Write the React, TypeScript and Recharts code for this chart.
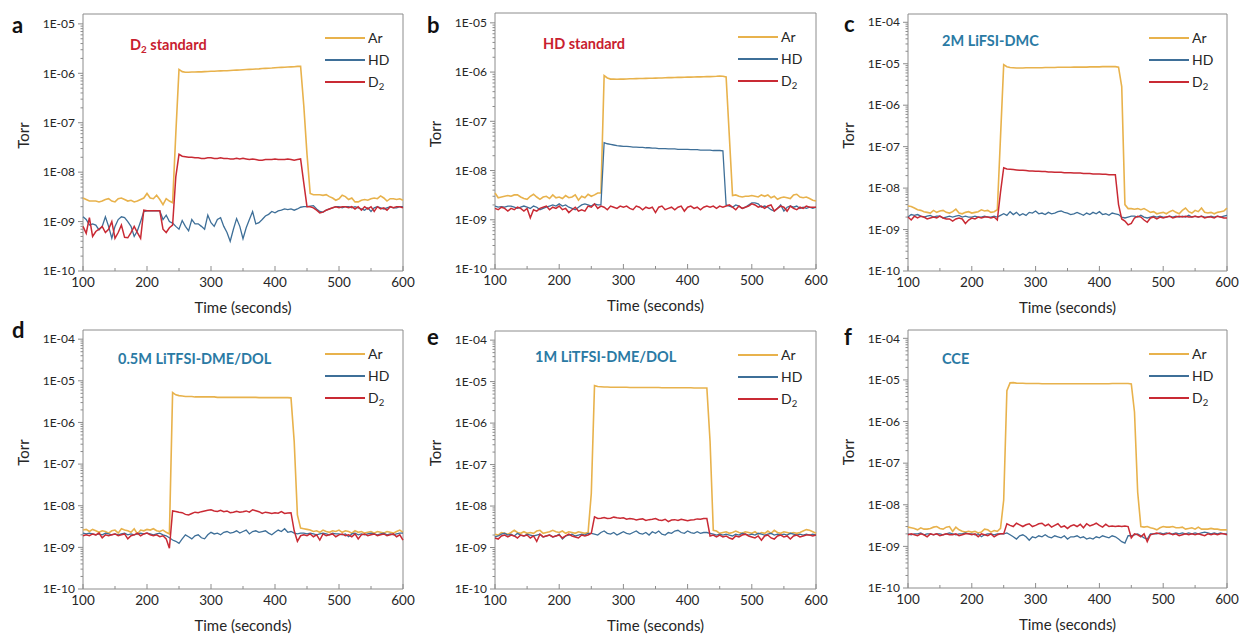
import React from "react";
import { LineChart, Line, XAxis, YAxis, ReferenceArea, Legend } from "recharts";

// sample times (s)
const TIME = [
  100, 105, 110, 115, 120, 125, 130, 135, 140, 145,
  150, 155, 160, 165, 170, 175, 180, 185, 190, 195,
  200, 205, 210, 215, 220, 225, 230, 235, 240, 245,
  250, 255, 260, 265, 270, 275, 280, 285, 290, 295,
  300, 305, 310, 315, 320, 325, 330, 335, 340, 345,
  350, 355, 360, 365, 370, 375, 380, 385, 390, 395,
  400, 405, 410, 415, 420, 425, 430, 435, 440, 445,
  450, 455, 460, 465, 470, 475, 480, 485, 490, 495,
  500, 505, 510, 515, 520, 525, 530, 535, 540, 545,
  550, 555, 560, 565, 570, 575, 580, 585, 590, 595,
  600,
];

// all pressures below are in units of 1E-09 Torr

// a - D2 standard
const arA = [
  3.0, 2.8, 2.6, 2.6, 2.6, 2.5, 2.6, 2.8, 2.9, 2.6,
  2.5, 2.9, 3.0, 2.8, 2.6, 2.7, 2.5, 2.6, 2.8, 3.0,
  3.7, 3.0, 2.9, 3.4, 2.8, 2.2, 2.9, 2.6, 2.4, 60,
  1200, 1080, 1050, 1050, 1060, 1060, 1070, 1070, 1080, 1090,
  1100, 1100, 1110, 1120, 1130, 1130, 1140, 1150, 1160, 1170,
  1180, 1190, 1200, 1210, 1220, 1230, 1250, 1260, 1270, 1280,
  1300, 1310, 1320, 1330, 1340, 1350, 1360, 1380, 1390, 220,
  23, 3.7, 3.5, 3.5, 3.5, 3.4, 3.5, 3.2, 3.0, 2.7,
  2.9, 3.4, 3.2, 2.8, 3.0, 2.5, 2.5, 2.7, 2.8, 2.7,
  2.9, 3.0, 2.9, 3.3, 3.0, 2.6, 2.9, 2.9, 2.8, 2.9,
  2.7,
];
const hdA = [
  1.25, 1.1, 0.85, 0.9, 0.85, 0.68, 0.8, 1.25, 0.8, 0.46,
  0.8, 1.1, 1.25, 1.2, 1.0, 0.8, 0.5, 0.65, 1.0, 1.6,
  1.65, 1.65, 1.65, 1.65, 1.65, 1.1, 1.35, 1.0, 0.93, 0.8,
  0.7, 1.05, 0.8, 0.65, 1.1, 0.9, 0.9, 0.8, 0.7, 1.35,
  0.95, 0.8, 1.1, 1.2, 0.8, 0.6, 0.4, 0.7, 1.15, 0.8,
  0.45, 0.75, 1.1, 1.6, 0.9, 0.95, 1.1, 1.3, 1.4, 1.6,
  1.5, 1.65, 1.7, 1.8, 1.75, 1.8, 1.7, 1.8, 1.95, 2.0,
  2.0, 2.05, 2.1, 1.8, 1.6, 1.55, 1.7, 1.8, 1.9, 2.0,
  2.0, 1.9, 2.0, 2.0, 1.9, 2.0, 1.9, 1.8, 1.7, 1.9,
  1.6, 1.9, 2.0, 1.9, 1.8, 1.9, 2.0, 1.9, 1.9, 2.0,
  2.0,
];
const d2A = [
  0.8, 0.58, 1.2, 0.5, 0.63, 0.7, 0.8, 0.6, 0.7, 1.0,
  0.46, 0.6, 0.85, 0.48, 0.47, 0.6, 0.8, 0.6, 0.46, 1.7,
  1.65, 1.65, 1.65, 1.65, 1.65, 0.7, 0.6, 0.75, 0.85, 8,
  23, 21, 20.5, 20, 20, 19.5, 19.5, 19, 19, 19.5,
  19.5, 19, 19, 19.5, 19, 19, 18.5, 18.5, 19, 18.5,
  19, 18.5, 18, 18.5, 18, 17.5, 17.5, 18, 18, 18,
  18.5, 18, 18, 18, 18.5, 18, 17.5, 18, 18.5, 6,
  2.0, 2.0, 1.9, 1.7, 1.5, 1.55, 1.7, 1.8, 1.9, 2.0,
  1.9, 2.0, 2.0, 1.9, 2.0, 1.8, 2.0, 1.7, 2.0, 1.8,
  2.0, 1.6, 2.0, 1.8, 1.9, 1.7, 2.0, 1.9, 2.0, 2.0,
  1.9,
];

// b - HD standard
const arB = [
  3.5, 2.8, 2.9, 3.0, 3.1, 3.0, 3.2, 3.2, 2.9, 2.7,
  2.6, 3.0, 3.3, 2.9, 2.6, 2.9, 3.0, 2.7, 3.2, 2.8,
  2.9, 2.7, 3.1, 2.8, 2.9, 3.2, 2.5, 3.0, 2.8, 3.3,
  3.0, 3.2, 3.5, 3.5, 850, 760, 720, 720, 715, 720,
  720, 725, 730, 730, 735, 740, 740, 745, 750, 750,
  755, 760, 760, 765, 770, 770, 775, 780, 780, 785,
  790, 790, 795, 800, 800, 805, 810, 810, 815, 820,
  830, 820, 800, 50, 3.1, 3.2, 3.0, 2.9, 3.0, 3.0,
  3.1, 3.0, 2.9, 3.2, 3.0, 3.2, 2.8, 3.0, 2.6, 2.8,
  2.9, 2.8, 2.7, 3.2, 3.3, 2.9, 2.8, 2.9, 2.7, 2.5,
  2.4,
];
const hdB = [
  1.9, 1.8, 1.85, 1.8, 1.9, 1.9, 1.8, 1.7, 1.8, 1.9,
  1.8, 1.7, 1.9, 1.8, 1.6, 1.7, 1.8, 1.9, 2.0, 1.9,
  2.1, 1.9, 2.0, 1.8, 1.7, 1.6, 1.8, 2.0, 2.1, 2.0,
  1.9, 2.1, 2.0, 2.0, 37, 35, 34, 33, 32, 31.5,
  31, 31, 30.5, 30, 30, 29.5, 29.5, 29, 29, 28.5,
  28.5, 28, 28, 28, 27.5, 27.5, 27.5, 27, 27, 27,
  27, 26.5, 26.5, 26.5, 26, 26, 26, 26, 25.5, 25.5,
  25.5, 25, 2.0, 1.9, 1.8, 2.0, 1.9, 1.7, 1.8, 2.0,
  2.2, 2.2, 2.1, 1.8, 1.9, 1.8, 1.6, 1.5, 1.7, 2.0,
  1.5, 1.8, 1.9, 1.8, 1.9, 1.7, 1.8, 1.7, 1.8, 1.7,
  1.8,
];
const d2B = [
  1.7, 1.6, 1.8, 1.7, 1.5, 1.7, 1.6, 1.8, 1.7, 1.5,
  1.7, 1.1, 1.6, 1.5, 1.7, 1.8, 1.9, 1.6, 1.8, 1.7,
  1.9, 1.6, 1.7, 1.4, 1.6, 1.8, 1.5, 1.6, 1.5, 1.9,
  1.8, 2.1, 1.7, 1.9, 1.8, 1.6, 1.9, 1.8, 1.7, 1.9,
  1.8, 1.9, 1.7, 1.6, 1.9, 1.8, 1.6, 1.8, 1.7, 1.8,
  1.4, 1.8, 1.9, 1.6, 1.7, 1.8, 1.6, 1.8, 1.9, 1.5,
  1.8, 1.9, 1.7, 1.8, 1.6, 1.8, 1.9, 1.8, 1.9, 1.7,
  1.9, 1.8, 1.9, 2.0, 1.8, 1.6, 1.9, 1.7, 1.8, 1.9,
  2.1, 2.0, 1.8, 1.9, 1.7, 1.9, 2.0, 1.5, 1.7, 1.9,
  1.8, 1.5, 1.9, 1.7, 1.6, 1.8, 1.7, 1.9, 1.8, 1.8,
  1.8,
];

// c - 2M LiFSI-DMC
const arC = [
  3.7, 3.6, 3.3, 3.0, 2.9, 2.7, 2.6, 2.5, 2.9, 2.6,
  2.8, 2.9, 2.6, 2.5, 2.7, 3.1, 2.5, 2.4, 2.6, 2.7,
  2.5, 2.6, 2.7, 3.0, 2.8, 2.9, 2.6, 2.7, 3.0, 170,
  9500, 8500, 8100, 8000, 7900, 7900, 7900, 8000, 8000, 8000,
  8000, 8000, 8000, 8100, 8100, 8100, 8100, 8200, 8200, 8200,
  8200, 8200, 8300, 8300, 8300, 8300, 8300, 8400, 8400, 8400,
  8400, 8500, 8500, 8500, 8500, 8500, 8300, 2800, 4.0, 3.2,
  3.2, 3.1, 3.2, 3.0, 3.2, 2.9, 2.6, 2.7, 2.4, 2.5,
  2.6, 2.4, 2.7, 2.9, 2.6, 2.4, 2.9, 3.3, 2.7, 2.5,
  2.9, 2.7, 3.3, 2.6, 2.5, 2.6, 2.4, 2.6, 2.7, 2.8,
  3.3,
];
const hdC = [
  2.0, 2.3, 2.2, 2.3, 2.1, 2.0, 2.1, 2.2, 2.0, 2.1,
  2.1, 1.9, 2.0, 2.1, 2.0, 2.1, 2.2, 2.0, 2.1, 2.0,
  2.0, 2.1, 2.0, 2.0, 2.1, 2.0, 2.0, 2.1, 2.0, 2.2,
  2.4, 2.2, 2.7, 2.3, 2.6, 2.2, 2.4, 2.2, 2.6, 2.5,
  2.8, 2.4, 2.5, 2.3, 2.6, 2.4, 2.5, 2.7, 2.8, 2.6,
  2.5, 2.3, 2.4, 2.6, 2.4, 2.2, 2.5, 2.3, 2.6, 2.4,
  2.7, 2.3, 2.4, 2.2, 2.5, 2.4, 2.3, 2.0, 1.9, 2.0,
  2.1, 2.1, 2.0, 2.2, 2.0, 1.9, 2.0, 2.1, 2.0, 2.1,
  2.0, 2.0, 2.1, 2.0, 2.1, 2.0, 2.1, 2.0, 2.2, 2.0,
  2.1, 2.0, 2.1, 2.0, 2.0, 2.1, 2.0, 2.1, 2.0, 2.1,
  2.2,
];
const d2C = [
  2.0, 1.7, 2.1, 1.9, 2.1, 2.0, 1.8, 1.9, 2.0, 1.9,
  2.1, 1.9, 1.8, 1.8, 1.6, 1.8, 1.9, 1.8, 1.4, 1.7,
  1.9, 1.8, 2.0, 1.9, 2.0, 2.0, 1.9, 2.0, 1.7, 8,
  31, 29, 28.5, 28, 27.5, 27, 27, 26.5, 26, 26,
  25.5, 25.5, 25, 25, 24.5, 24.5, 24, 24, 24, 23.5,
  23.5, 23.5, 23, 23, 23, 22.5, 22.5, 22.5, 22, 22,
  22, 21.5, 21.5, 21, 21, 21, 4, 1.8, 1.6, 1.3,
  1.4, 1.9, 2.1, 2.0, 1.7, 1.5, 1.9, 2.0, 1.8, 2.0,
  1.9, 2.0, 2.1, 1.9, 2.0, 2.1, 2.0, 2.1, 2.0, 2.0,
  2.1, 2.0, 2.1, 1.9, 2.0, 2.0, 1.9, 2.1, 2.0, 1.9,
  1.9,
];

// d - 0.5M LiTFSI-DME/DOL
const arD = [
  2.6, 2.7, 2.4, 2.7, 2.5, 2.3, 2.5, 2.4, 2.2, 2.5,
  2.6, 2.2, 2.8, 2.6, 2.5, 2.3, 2.8, 2.1, 2.6, 2.5,
  2.7, 2.6, 2.8, 2.5, 2.4, 2.6, 2.3, 2.1, 5200, 4600,
  4400, 4300, 4200, 4200, 4200, 4100, 4100, 4100, 4100, 4100,
  4100, 4100, 4000, 4000, 4000, 4000, 4000, 4000, 4000, 4000,
  4000, 4000, 4000, 4000, 4000, 3950, 3950, 3950, 3950, 3950,
  3950, 3950, 3950, 3950, 3950, 3900, 350, 6, 2.9, 2.8,
  2.7, 2.6, 2.4, 2.5, 2.3, 2.6, 2.4, 2.3, 2.5, 2.4,
  2.6, 2.3, 2.5, 2.4, 2.2, 2.5, 2.3, 2.4, 2.2, 2.3,
  2.4, 2.2, 2.4, 2.3, 2.2, 2.4, 2.3, 2.2, 2.4, 2.6,
  2.3,
];
const hdD = [
  2.2, 2.1, 2.2, 2.1, 2.0, 2.1, 2.0, 2.2, 2.1, 2.0,
  2.1, 2.0, 2.1, 2.2, 2.0, 2.1, 2.0, 2.1, 2.2, 2.1,
  2.2, 2.1, 2.0, 2.1, 2.2, 2.0, 1.9, 1.7, 1.5, 1.4,
  1.25, 1.6, 2.0, 1.8, 1.6, 1.9, 2.0, 1.7, 1.6, 2.0,
  2.3, 2.1, 2.2, 2.0, 2.3, 2.4, 2.2, 2.3, 2.5, 2.2,
  2.4, 2.6, 2.1, 2.4, 2.5, 2.3, 2.4, 2.5, 2.2, 2.0,
  2.3, 2.6, 2.4, 2.8, 2.3, 2.4, 2.2, 2.1, 2.2, 2.2,
  2.1, 2.2, 2.1, 2.0, 2.1, 2.2, 2.1, 2.0, 2.2, 2.1,
  2.1, 2.0, 2.1, 1.8, 2.1, 2.2, 2.0, 2.1, 2.0, 2.1,
  2.2, 2.1, 2.0, 2.1, 2.2, 2.0, 2.1, 2.0, 2.1, 2.2,
  2.2,
];
const d2D = [
  1.9, 2.0, 1.9, 2.1, 2.0, 2.2, 1.7, 2.0, 1.9, 2.0,
  2.1, 1.9, 2.0, 2.1, 1.6, 1.9, 2.0, 2.2, 1.9, 2.1,
  2.2, 2.0, 1.9, 2.0, 1.8, 1.9, 1.6, 0.95, 7.5, 7.3,
  7.0, 6.8, 6.2, 6.0, 6.5, 7.0, 6.8, 7.2, 7.5, 7.8,
  8.0, 7.5, 7.3, 7.8, 7.2, 7.5, 6.8, 7.0, 7.4, 7.0,
  7.2, 7.5, 7.0, 8.0, 7.6, 7.2, 6.5, 7.0, 6.8, 6.5,
  6.8, 6.6, 7.2, 6.5, 6.7, 6.8, 2.5, 1.4, 1.9, 2.0,
  1.9, 2.1, 1.8, 2.0, 1.5, 2.1, 1.9, 2.0, 2.1, 1.8,
  2.0, 2.1, 1.9, 2.0, 1.8, 2.1, 1.6, 2.0, 2.1, 1.9,
  2.0, 2.1, 1.9, 2.0, 2.1, 1.9, 2.0, 2.1, 1.8, 2.0,
  1.5,
];

// e - 1M LiTFSI-DME/DOL
const arE = [
  2.1, 2.0, 2.3, 2.2, 2.1, 2.3, 2.6, 2.3, 2.2, 2.4,
  2.2, 2.3, 2.2, 2.5, 2.6, 2.2, 2.3, 2.4, 2.6, 2.4,
  2.3, 2.5, 2.2, 2.4, 2.3, 2.2, 2.4, 2.3, 2.2, 2.3,
  20, 8000, 7600, 7500, 7400, 7400, 7300, 7300, 7300, 7300,
  7300, 7300, 7200, 7200, 7200, 7200, 7200, 7200, 7200, 7200,
  7200, 7200, 7100, 7100, 7100, 7100, 7100, 7100, 7100, 7100,
  7100, 7100, 7000, 7000, 7000, 7000, 7000, 360, 2.6, 2.5,
  2.2, 2.3, 2.4, 2.2, 2.3, 2.5, 2.3, 2.2, 2.4, 2.3,
  2.2, 2.4, 2.1, 2.3, 2.2, 2.5, 2.2, 2.6, 2.3, 2.2,
  2.4, 2.3, 2.2, 2.3, 2.2, 2.3, 2.5, 2.7, 2.6, 2.4,
  2.2,
];
const hdE = [
  1.8, 1.9, 2.1, 2.2, 2.0, 2.1, 1.9, 2.2, 2.0, 1.9,
  2.1, 2.0, 1.9, 2.0, 2.1, 1.8, 1.9, 2.0, 1.8, 1.9,
  2.1, 1.6, 1.9, 2.0, 2.1, 1.9, 2.0, 2.1, 2.0, 2.2,
  2.2, 2.1, 2.0, 2.3, 2.5, 2.2, 2.1, 2.3, 2.0, 2.2,
  2.4, 2.2, 2.1, 2.3, 2.5, 2.2, 2.1, 2.3, 2.0, 2.4,
  2.2, 2.5, 2.1, 2.0, 2.3, 2.2, 2.5, 2.6, 2.3, 2.2,
  2.5, 2.3, 2.2, 2.4, 2.2, 2.3, 2.3, 2.2, 2.1, 2.0,
  2.1, 2.0, 2.1, 2.0, 1.9, 2.1, 2.0, 2.2, 2.1, 2.0,
  2.1, 2.0, 2.2, 2.1, 2.0, 2.1, 2.2, 2.0, 2.1, 2.0,
  2.1, 2.0, 2.2, 2.1, 2.0, 2.1, 2.0, 2.1, 2.0, 2.1,
  2.0,
];
const d2E = [
  1.7, 1.6, 1.9, 2.0, 1.8, 2.0, 1.9, 1.7, 2.0, 1.9,
  2.0, 1.7, 1.9, 1.4, 2.1, 1.8, 1.9, 2.0, 1.8, 1.9,
  2.0, 1.7, 1.9, 2.1, 1.9, 1.8, 1.7, 2.0, 1.9, 2.0,
  2.2, 5.5, 5.0, 5.1, 5.3, 5.0, 5.1, 5.4, 5.2, 5.1,
  5.2, 4.8, 5.0, 4.9, 4.6, 4.8, 4.9, 4.5, 4.7, 4.8,
  5.0, 4.6, 4.5, 4.8, 4.2, 4.6, 4.7, 4.5, 4.8, 4.6,
  4.4, 4.6, 4.7, 4.9, 4.8, 5.0, 5.0, 1.9, 2.0, 1.8,
  2.0, 1.8, 1.9, 1.7, 1.6, 1.9, 1.8, 2.0, 2.1, 1.9,
  1.8, 1.7, 1.9, 1.5, 1.9, 2.0, 1.7, 1.6, 1.9, 2.0,
  1.8, 1.9, 1.6, 1.9, 2.0, 1.8, 1.9, 2.0, 2.0, 1.9,
  2.0,
];

// f - CCE
const arF = [
  2.9, 2.8, 2.7, 2.5, 2.8, 2.6, 2.6, 2.7, 2.9, 3.0,
  2.7, 2.6, 2.9, 3.0, 2.3, 2.9, 2.5, 2.3, 2.2, 2.3,
  2.2, 2.3, 2.1, 2.2, 2.6, 2.5, 2.2, 2.4, 2.3, 2.7,
  13, 5500, 8500, 8600, 8400, 8300, 8300, 8200, 8200, 8200,
  8200, 8200, 8100, 8100, 8100, 8100, 8100, 8100, 8100, 8100,
  8100, 8100, 8100, 8100, 8100, 8100, 8100, 8100, 8100, 8100,
  8100, 8100, 8100, 8100, 8200, 8200, 8200, 8200, 8200, 8200,
  8000, 1700, 20, 3.0, 2.9, 3.0, 2.8, 2.7, 2.5, 2.8,
  3.0, 2.9, 2.9, 3.0, 2.8, 2.8, 2.9, 2.6, 2.7, 2.8,
  2.6, 2.9, 2.6, 2.6, 2.6, 2.7, 2.6, 2.6, 2.5, 2.5,
  2.5,
];
const hdF = [
  2.0, 1.9, 2.0, 2.0, 2.1, 1.9, 2.0, 2.0, 1.9, 2.0,
  2.0, 1.9, 2.0, 2.1, 2.0, 1.9, 2.0, 2.0, 2.1, 2.0,
  2.0, 1.9, 2.0, 1.7, 1.9, 2.0, 2.0, 1.9, 2.0, 2.0,
  2.0, 2.1, 1.9, 1.7, 1.5, 1.8, 1.9, 1.7, 1.4, 1.7,
  1.6, 1.8, 1.7, 1.9, 1.7, 1.6, 1.8, 1.7, 1.6, 1.8,
  1.5, 1.7, 1.7, 1.8, 1.6, 1.7, 1.5, 1.6, 1.5, 1.7,
  1.6, 1.8, 1.7, 1.6, 1.8, 1.7, 1.5, 1.3, 1.2, 1.8,
  1.8, 1.9, 2.0, 1.8, 1.6, 1.5, 2.0, 2.0, 2.0, 2.1,
  2.0, 2.1, 2.0, 2.0, 2.1, 2.0, 2.1, 2.0, 2.1, 2.0,
  2.1, 2.0, 2.1, 2.2, 2.1, 2.0, 2.1, 2.0, 2.1, 2.0,
  2.0,
];
const d2F = [
  1.9, 2.0, 1.9, 1.8, 2.0, 1.9, 1.7, 2.0, 1.9, 2.0,
  1.8, 1.9, 2.0, 1.9, 1.9, 2.0, 1.8, 1.9, 2.0, 2.0,
  1.9, 2.0, 1.7, 2.0, 1.9, 1.8, 2.0, 1.7, 1.9, 2.0,
  2.0, 3.5, 3.2, 3.0, 3.6, 3.3, 3.0, 3.3, 3.5, 3.0,
  3.2, 3.5, 3.6, 3.1, 3.4, 2.9, 3.2, 3.5, 2.9, 3.1,
  2.7, 3.1, 3.3, 3.0, 3.4, 2.8, 3.5, 3.1, 3.3, 3.6,
  3.2, 2.9, 3.4, 3.0, 3.1, 3.0, 3.1, 3.0, 3.1, 3.0,
  1.6, 2.0, 1.9, 1.7, 2.0, 1.3, 1.9, 2.0, 2.1, 2.0,
  1.9, 2.0, 2.1, 1.9, 2.0, 1.8, 1.9, 2.0, 1.9, 2.0,
  1.9, 2.0, 1.9, 1.8, 2.0, 1.9, 2.0, 1.9, 2.0, 2.0,
  1.9,
];

const X_TICKS = [100, 150, 200, 250, 300, 350, 400, 450, 500, 550, 600];
const Y_DECADES_LOW = [1e-10, 1e-9, 1e-8, 1e-7, 1e-6, 1e-5];
const Y_DECADES_HIGH = [1e-10, 1e-9, 1e-8, 1e-7, 1e-6, 1e-5, 1e-4];
const SERIES_ORDER = ["Ar", "HD", "D2"];

const AR_COLOR = "#E8B24C";
const HD_COLOR = "#3E6F98";
const D2_COLOR = "#C92A34";
const RED_TITLE = "#C8202E";
const BLUE_TITLE = "#2A7AA4";
const AXIS = "#8c8c8c";
const TEXT = "#262626";
const FONT = "Lato, 'Open Sans', sans-serif";

const withMinor = (decades: number[], max: number) => {
  const out: number[] = [];
  decades.forEach((d) => {
    out.push(d);
    for (let k = 2; k <= 9; k++) if (k * d <= max) out.push(k * d);
  });
  return out;
};

const isDecade = (v: number) => {
  const e = Math.log10(v);
  return Math.abs(e - Math.round(e)) < 1e-6;
};

const expLabel = (v: number) => {
  const e = Math.round(Math.log10(v));
  return `1E-${String(-e).padStart(2, "0")}`;
};

const withSub = (s: string) => {
  const i = s.indexOf("D2");
  if (i < 0) return s;
  return (
    <>
      {s.slice(0, i)}D
      <sub style={{ fontSize: "0.68em", verticalAlign: "-0.3em", lineHeight: 0 }}>2</sub>
      {s.slice(i + 2)}
    </>
  );
};

const YTick = (props: any) => {
  const { x, y, payload } = props;
  const major = isDecade(payload.value);
  return (
    <g>
      <line x1={x - (major ? 5 : 2.5)} x2={x} y1={y} y2={y} stroke={AXIS} strokeWidth={1} />
      {major && (
        <text x={x - 8} y={y} dy="0.35em" textAnchor="end" fontSize={12} fill={TEXT} fontFamily={FONT}>
          {expLabel(payload.value)}
        </text>
      )}
    </g>
  );
};

const XTick = (props: any) => {
  const { x, y, payload } = props;
  const major = payload.value % 100 === 0;
  return (
    <g>
      <line x1={x} x2={x} y1={y} y2={y - (major ? 5 : 3)} stroke={AXIS} strokeWidth={1} />
      {major && (
        <text x={x} y={y + 16} textAnchor="middle" fontSize={13.5} fill={TEXT} fontFamily={FONT}>
          {payload.value}
        </text>
      )}
    </g>
  );
};

const PANELS = [
  { letter: "a", letterAt: [12, 33], title: "D2 standard", titleColor: RED_TITLE, titleAt: [130, 45],
    box: [0, 0, 425, 316], plot: [83, 14, 403, 271], yMax: Math.pow(10, -4.8), decades: Y_DECADES_LOW,
    ar: arA, hd: hdA, d2: d2A },
  { letter: "b", letterAt: [427, 33], title: "HD standard", titleColor: RED_TITLE, titleAt: [543, 44],
    box: [412, 0, 425, 316], plot: [495, 13, 816, 269], yMax: Math.pow(10, -4.8), decades: Y_DECADES_LOW,
    ar: arB, hd: hdB, d2: d2B },
  { letter: "c", letterAt: [844, 32], title: "2M LiFSI-DMC", titleColor: BLUE_TITLE, titleAt: [942, 41],
    box: [825, 0, 414, 316], plot: [908, 14, 1227, 271], yMax: Math.pow(10, -3.8), decades: Y_DECADES_HIGH,
    ar: arC, hd: hdC, d2: d2C },
  { letter: "d", letterAt: [12, 338], title: "0.5M LiTFSI-DME/DOL", titleColor: BLUE_TITLE, titleAt: [118, 359],
    box: [0, 316, 425, 320], plot: [83, 330, 403, 589], yMax: Math.pow(10, -3.78), decades: Y_DECADES_HIGH,
    ar: arD, hd: hdD, d2: d2D },
  { letter: "e", letterAt: [427, 345], title: "1M LiTFSI-DME/DOL", titleColor: BLUE_TITLE, titleAt: [535, 357],
    box: [412, 316, 425, 320], plot: [495, 331, 816, 589], yMax: Math.pow(10, -3.78), decades: Y_DECADES_HIGH,
    ar: arE, hd: hdE, d2: d2E },
  { letter: "f", letterAt: [844, 345], title: "CCE", titleColor: BLUE_TITLE, titleAt: [942, 359],
    box: [825, 316, 414, 320], plot: [908, 330, 1227, 588], yMax: Math.pow(10, -3.8), decades: Y_DECADES_HIGH,
    ar: arF, hd: hdF, d2: d2F },
];

function Panel({ p }: { p: (typeof PANELS)[number] }) {
  const [cx, cy, W, H] = p.box;
  const [pl, pt, pr, pb] = p.plot;
  const yAxisW = 75;
  const xAxisH = 45;
  const margin = { left: pl - cx - yAxisW, top: pt - cy, right: cx + W - pr, bottom: cy + H - pb - xAxisH };
  const rows = TIME.map((t, i) => ({ t, Ar: p.ar[i] * 1e-9, HD: p.hd[i] * 1e-9, D2: p.d2[i] * 1e-9 }));
  const yTicks = withMinor(p.decades, p.yMax);
  const torrX = pl - cx - 60;
  const torrY = (pt + pb) / 2 - cy - 7;

  const renderLegend = (props: any) => {
    const items = [...(props.payload || [])].sort(
      (a: any, b: any) => SERIES_ORDER.indexOf(String(a.value)) - SERIES_ORDER.indexOf(String(b.value))
    );
    return (
      <div style={{ fontFamily: FONT, fontSize: 14, color: TEXT }}>
        {items.map((e: any) => (
          <div key={e.value} style={{ display: "flex", alignItems: "center", height: 22 }}>
            <span style={{ display: "block", width: 40, height: 2, background: e.color }} />
            <span style={{ marginLeft: 3, lineHeight: "22px" }}>{withSub(String(e.value))}</span>
          </div>
        ))}
      </div>
    );
  };

  return (
    <div style={{ position: "absolute", left: cx, top: cy, width: W, height: H }}>
      <LineChart width={W} height={H} data={rows} margin={margin}>
        <XAxis
          dataKey="t"
          type="number"
          domain={[100, 600]}
          ticks={X_TICKS}
          interval={0}
          axisLine={false}
          tickLine={false}
          tickSize={0}
          tickMargin={0}
          height={xAxisH}
          tick={XTick}
          label={{ value: "Time (seconds)", position: "insideBottom", offset: 3, fill: TEXT, fontSize: 15, fontFamily: FONT }}
        />
        <YAxis
          type="number"
          scale="log"
          domain={[1e-10, p.yMax]}
          allowDataOverflow
          ticks={yTicks}
          interval={0}
          axisLine={false}
          tickLine={false}
          tickSize={0}
          tickMargin={0}
          width={yAxisW}
          tick={YTick}
          label={{
            content: () => (
              <text
                x={torrX}
                y={torrY}
                transform={`rotate(-90 ${torrX} ${torrY})`}
                textAnchor="middle"
                dominantBaseline="central"
                fontSize={15}
                fill={TEXT}
                fontFamily={FONT}
              >
                Torr
              </text>
            ),
          }}
        />
        <ReferenceArea x1={100} x2={600} y1={1e-10} y2={p.yMax} fill="none" fillOpacity={0} stroke={AXIS} strokeWidth={1} />
        <Line type="linear" dataKey="Ar" name="Ar" stroke={AR_COLOR} strokeWidth={1.6} dot={false} isAnimationActive={false} />
        <Line type="linear" dataKey="HD" name="HD" stroke={HD_COLOR} strokeWidth={1.3} dot={false} isAnimationActive={false} />
        <Line type="linear" dataKey="D2" name="D2" stroke={D2_COLOR} strokeWidth={1.5} dot={false} isAnimationActive={false} />
        <Legend
          layout="vertical"
          align="center"
          verticalAlign="middle"
          content={renderLegend}
          wrapperStyle={{ left: pr - cx - 78, top: pt - cy + 13, width: 80 }}
        />
      </LineChart>
      <div
        style={{
          position: "absolute",
          left: p.letterAt[0] - cx,
          top: p.letterAt[1] - cy - 19,
          fontFamily: FONT,
          fontWeight: 700,
          fontSize: 22,
          lineHeight: "22px",
          color: "#111",
        }}
      >
        {p.letter}
      </div>
      <div
        style={{
          position: "absolute",
          left: p.titleAt[0] - cx,
          top: p.titleAt[1] - cy - 9,
          fontFamily: FONT,
          fontWeight: 700,
          fontSize: 14.5,
          lineHeight: "18px",
          color: p.titleColor,
          whiteSpace: "nowrap",
        }}
      >
        {withSub(p.title)}
      </div>
    </div>
  );
}

export default function App() {
  return (
    <div style={{ position: "fixed", left: 0, top: 0, width: 1239, height: 636, background: "#fff", overflow: "hidden" }}>
      {PANELS.map((p) => (
        <Panel key={p.letter} p={p} />
      ))}
    </div>
  );
}
